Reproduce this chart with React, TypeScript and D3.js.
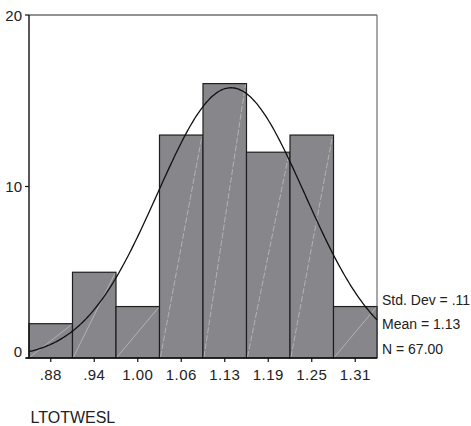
import React from "react";
import * as d3 from "d3";

const binMidpoints = [0.875, 0.9375, 1.0, 1.0625, 1.125, 1.1875, 1.25, 1.3125];
const counts = [2, 5, 3, 13, 16, 12, 13, 3];
const tickLabels = [".88", ".94", "1.00", "1.06", "1.13", "1.19", "1.25", "1.31"];
const yTicks = [0, 10, 20];
const statLines = ["Std. Dev = .11", "Mean = 1.13", "N = 67.00"];
const variableName = "LTOTWESL";
const binWidth = 0.0625;
const curveMean = 1.134;
const curveSd = 0.106;
const nCases = 67;

const W = 471;
const H = 426;
const left = 29;
const right = 377;
const top = 15;
const bottom = 358;
const font = "'Liberation Sans', Arial, Helvetica, sans-serif";

export default function App() {
  const x0 = binMidpoints[0] - binWidth / 2;
  const x1 = binMidpoints[binMidpoints.length - 1] + binWidth / 2;
  const x = d3.scaleLinear().domain([x0, x1]).range([left, right]);
  const y = d3.scaleLinear().domain([0, 20]).range([bottom, top]);

  const curvePts = d3.range(0, 201).map((i) => {
    const v = x0 + ((x1 - x0) * i) / 200;
    const z = (v - curveMean) / curveSd;
    const dens = (nCases * binWidth) / (curveSd * Math.sqrt(2 * Math.PI)) * Math.exp(-0.5 * z * z);
    return [v, dens] as [number, number];
  });
  const line = d3
    .line<[number, number]>()
    .x((d) => x(d[0]))
    .y((d) => y(d[1]))
    .curve(d3.curveBasis);

  return (
    <svg
      width={W}
      height={H}
      style={{ position: "absolute", left: 0, top: 0, background: "#fff" }}
    >
      {/* frame */}
      <line x1={left} x2={right} y1={top} y2={top} stroke="#6e6e6e" strokeWidth={1.5} />
      <line x1={right} x2={right} y1={top} y2={bottom} stroke="#6e6e6e" strokeWidth={1.2} />
      {/* bars */}
      {counts.map((c, i) => {
        const bx0 = x(binMidpoints[i] - binWidth / 2);
        const bx1 = x(binMidpoints[i] + binWidth / 2);
        const by = y(c);
        return (
          <g key={i}>
            <rect
              x={bx0}
              y={by}
              width={bx1 - bx0}
              height={bottom - by}
              fill="#87878b"
              stroke="#1e1e1e"
              strokeWidth={1.2}
            />
            <line
              x1={bx0 + 1}
              y1={bottom - 1}
              x2={bx1 - 1}
              y2={by + 1}
              stroke="#c4c4c4"
              strokeWidth={0.7}
              strokeDasharray={c > 6 ? "6,2" : undefined}
            />
          </g>
        );
      })}
      {/* curve */}
      <path d={line(curvePts) || ""} fill="none" stroke="#111" strokeWidth={1.3} />
      {/* axes */}
      <line x1={left} x2={left} y1={top} y2={bottom} stroke="#111" strokeWidth={1.4} />
      <line x1={left - 3} x2={right} y1={bottom} y2={bottom} stroke="#111" strokeWidth={1.4} />
      {yTicks.map((t) => (
        <g key={t}>
          <line x1={left - 4} x2={left} y1={y(t)} y2={y(t)} stroke="#111" strokeWidth={1.2} />
          <text
            x={22}
            y={t === 0 ? y(t) - 6.5 : y(t)}
            textAnchor="end"
            dominantBaseline="central"
            fontFamily={font}
            fontSize={15}
            fill="#222"
          >
            {t}
          </text>
        </g>
      ))}
      {binMidpoints.map((m, i) => (
        <g key={i}>
          <line x1={x(m)} x2={x(m)} y1={bottom} y2={bottom + 4} stroke="#111" strokeWidth={1.2} />
          <text
            x={x(m)}
            y={379.5}
            textAnchor="middle"
            fontFamily={font}
            fontSize={15}
            letterSpacing={0.4}
            fill="#222"
          >
            {tickLabels[i]}
          </text>
        </g>
      ))}
      {statLines.map((s, i) => (
        <text
          key={i}
          x={382}
          y={305 + i * 24.3}
          fontFamily={font}
          fontSize={14}
          fill="#222"
        >
          {s}
        </text>
      ))}
      <text x={30.5} y={423} fontFamily={font} fontSize={16} fill="#222">
        {variableName}
      </text>
    </svg>
  );
}
